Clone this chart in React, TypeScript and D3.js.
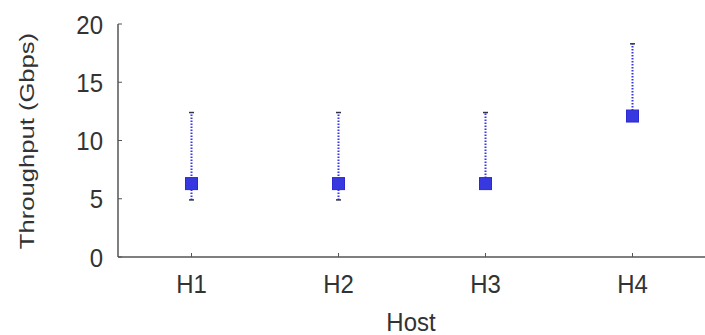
import * as d3 from "d3";

const hosts = ["H1", "H2", "H3", "H4"];
const medians = [6.3, 6.3, 6.3, 12.1];
const lows = [4.9, 4.9, 6.0, 11.8];
const highs = [12.4, 12.4, 12.4, 18.3];
const yTicks = [0, 5, 10, 15, 20];

export default function App() {
  const width = 705;
  const height = 335;
  const left = 118;
  const top = 24;
  const bottom = 257;

  const x = d3.scalePoint<string>().domain(hosts).range([left, 706]).padding(0.5);
  const y = d3.scaleLinear().domain([0, 20]).range([bottom, top]);

  const font = "Liberation Sans, Arial, sans-serif";
  const axisColor = "#555";
  const textColor = "#333";
  const blue = "#3838e0";

  // the picture text is a bit stretched vertically
  const label = (key: string, tx: number, ty: number, anchor: string, s: string) => (
    <text
      key={key}
      transform={`translate(${tx},${ty}) scale(1,1.1)`}
      textAnchor={anchor}
      fontFamily={font}
      fontSize={24}
      fill={textColor}
    >
      {s}
    </text>
  );

  return (
    <svg width={width} height={height} style={{ position: "absolute", left: 0, top: 0 }}>
      <rect width={width} height={height} fill="#fff" />
      <line x1={left} y1={top} x2={left} y2={bottom} stroke={axisColor} strokeWidth={1.5} />
      <line x1={left} y1={bottom} x2={width} y2={bottom} stroke={axisColor} strokeWidth={1.5} />
      {yTicks.map(t => (
        <g key={t}>
          <line x1={left} x2={left + 4} y1={y(t)} y2={y(t)} stroke={axisColor} strokeWidth={1} />
          {label("yl" + t, 103, y(t) + 9.5, "end", String(t))}
        </g>
      ))}
      {hosts.map(h => (
        <g key={h}>
          <line x1={x(h)} x2={x(h)} y1={bottom} y2={bottom - 4} stroke={axisColor} strokeWidth={1} />
          {label("xl" + h, x(h) as number, 293, "middle", h)}
        </g>
      ))}
      {label("host", 411, 331, "middle", "Host")}
      <text
        transform={`translate(34,${141}) rotate(-90) scale(1.28,1)`}
        textAnchor="middle"
        fontFamily={font}
        fontSize={20}
        fill={textColor}
      >
        Throughput (Gbps)
      </text>
      {hosts.map((h, i) => {
        const cx = x(h) as number;
        return (
          <g key={"bar" + h}>
            <line x1={cx} x2={cx} y1={y(lows[i])} y2={y(highs[i])} stroke={blue} strokeWidth={2} strokeDasharray="1.5,1.5" />
            <line x1={cx - 2.5} x2={cx + 2.5} y1={y(highs[i])} y2={y(highs[i])} stroke="#334" strokeWidth={1.5} />
            <line x1={cx - 2.5} x2={cx + 2.5} y1={y(lows[i])} y2={y(lows[i])} stroke="#334" strokeWidth={1.5} />
            <rect x={cx - 6} y={y(medians[i]) - 6} width={12} height={12} fill={blue} stroke="#2a2ad0" strokeWidth={1} />
          </g>
        );
      })}
    </svg>
  );
}
